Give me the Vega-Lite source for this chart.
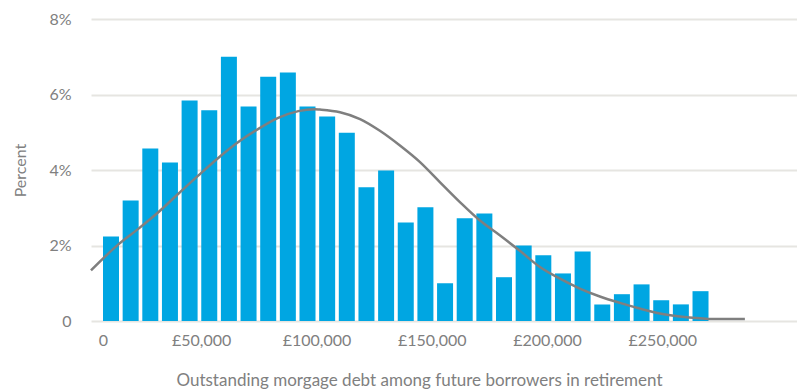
{
  "$schema": "https://vega.github.io/schema/vega-lite/v6.json",
  "width": 706,
  "height": 302,
  "autosize": {"type": "none"},
  "padding": {"left": 91, "top": 19, "right": 0, "bottom": 70},
  "background": "white",
  "config": {
    "view": {"stroke": null},
    "font": "Lato",
    "axis": {
      "labelFont": "Lato",
      "labelFontSize": 16,
      "labelFontWeight": "normal",
      "labelColor": "#808080",
      "titleFont": "Lato",
      "titleFontSize": 17,
      "titleFontWeight": "normal",
      "titleColor": "#808080",
      "domain": false,
      "ticks": false
    }
  },
  "datasets": {
    "bins": [
      {"bin": 1, "pct": 2.24},
      {"bin": 2, "pct": 3.19},
      {"bin": 3, "pct": 4.57},
      {"bin": 4, "pct": 4.2},
      {"bin": 5, "pct": 5.84},
      {"bin": 6, "pct": 5.58},
      {"bin": 7, "pct": 7.0},
      {"bin": 8, "pct": 5.68},
      {"bin": 9, "pct": 6.47},
      {"bin": 10, "pct": 6.58},
      {"bin": 11, "pct": 5.68},
      {"bin": 12, "pct": 5.42},
      {"bin": 13, "pct": 4.99},
      {"bin": 14, "pct": 3.54},
      {"bin": 15, "pct": 3.99},
      {"bin": 16, "pct": 2.61},
      {"bin": 17, "pct": 3.01},
      {"bin": 18, "pct": 1.0},
      {"bin": 19, "pct": 2.72},
      {"bin": 20, "pct": 2.85},
      {"bin": 21, "pct": 1.16},
      {"bin": 22, "pct": 2.0},
      {"bin": 23, "pct": 1.74},
      {"bin": 24, "pct": 1.26},
      {"bin": 25, "pct": 1.84},
      {"bin": 26, "pct": 0.44},
      {"bin": 27, "pct": 0.71},
      {"bin": 28, "pct": 0.97},
      {"bin": 29, "pct": 0.55},
      {"bin": 30, "pct": 0.44},
      {"bin": 31, "pct": 0.79}
    ],
    "fitted": [
      {"debt": 2200, "pct": 1.34},
      {"debt": 14100, "pct": 2.03},
      {"debt": 22700, "pct": 2.44},
      {"debt": 31400, "pct": 2.88},
      {"debt": 40100, "pct": 3.37},
      {"debt": 48700, "pct": 3.85},
      {"debt": 57400, "pct": 4.32},
      {"debt": 66100, "pct": 4.74},
      {"debt": 74800, "pct": 5.09},
      {"debt": 83400, "pct": 5.38},
      {"debt": 92100, "pct": 5.56},
      {"debt": 99300, "pct": 5.61},
      {"debt": 101500, "pct": 5.6},
      {"debt": 110200, "pct": 5.53},
      {"debt": 118900, "pct": 5.35},
      {"debt": 127500, "pct": 5.04},
      {"debt": 136200, "pct": 4.65},
      {"debt": 144900, "pct": 4.21},
      {"debt": 153500, "pct": 3.68},
      {"debt": 162200, "pct": 3.15},
      {"debt": 170900, "pct": 2.66},
      {"debt": 179500, "pct": 2.27},
      {"debt": 188200, "pct": 1.86},
      {"debt": 196900, "pct": 1.43},
      {"debt": 205600, "pct": 1.12},
      {"debt": 214200, "pct": 0.86},
      {"debt": 222900, "pct": 0.65},
      {"debt": 231600, "pct": 0.48},
      {"debt": 240200, "pct": 0.33},
      {"debt": 248900, "pct": 0.2},
      {"debt": 257600, "pct": 0.12},
      {"debt": 266300, "pct": 0.07},
      {"debt": 271900, "pct": 0.05},
      {"debt": 285800, "pct": 0.05}
    ]
  },
  "layer": [
    {
      "data": {"name": "bins"},
      "mark": {"type": "bar", "color": "#00a6e2", "width": 16},
      "encoding": {
        "x": {
          "field": "bin",
          "type": "quantitative",
          "scale": {"domain": [-0.0178, 35.91], "nice": false, "zero": false, "padding": 0},
          "axis": null
        },
        "y": {
          "field": "pct",
          "type": "quantitative",
          "scale": {"domain": [0, 8], "nice": false},
          "axis": {
            "title": "Percent",
            "values": [0, 2, 4, 6, 8],
            "labelExpr": "datum.value === 0 ? '0' : datum.value + '%'",
            "grid": true,
            "gridColor": "#e6e5e1",
            "gridWidth": 2,
            "labelPadding": 20,
            "titleX": -71,
            "titleFontSize": 16,
            "titleBaseline": "middle"
          }
        }
      }
    },
    {
      "data": {"name": "fitted"},
      "mark": {"type": "line", "color": "#7f7f7f", "strokeWidth": 2.5, "interpolate": "monotone"},
      "encoding": {
        "x": {
          "field": "debt",
          "type": "quantitative",
          "scale": {"domain": [0, 308400], "range": [-5.1, 706], "nice": false, "zero": false},
          "axis": {
            "orient": "bottom",
            "title": "Outstanding morgage debt among future borrowers in retirement",
            "values": [0, 50000, 100000, 150000, 200000, 250000],
            "labelExpr": "datum.value === 0 ? '0' : '£' + format(datum.value, ',')",
            "labelFlush": false,
            "labelPadding": 11,
            "labelOffset": {"condition": {"test": "datum.value === 0", "value": 17}, "value": 0},
            "grid": false,
            "titleX": 328,
            "titleY": 59,
            "titleBaseline": "middle"
          }
        },
        "y": {"field": "pct", "type": "quantitative"}
      }
    }
  ],
  "resolve": {"scale": {"x": "independent"}}
}
